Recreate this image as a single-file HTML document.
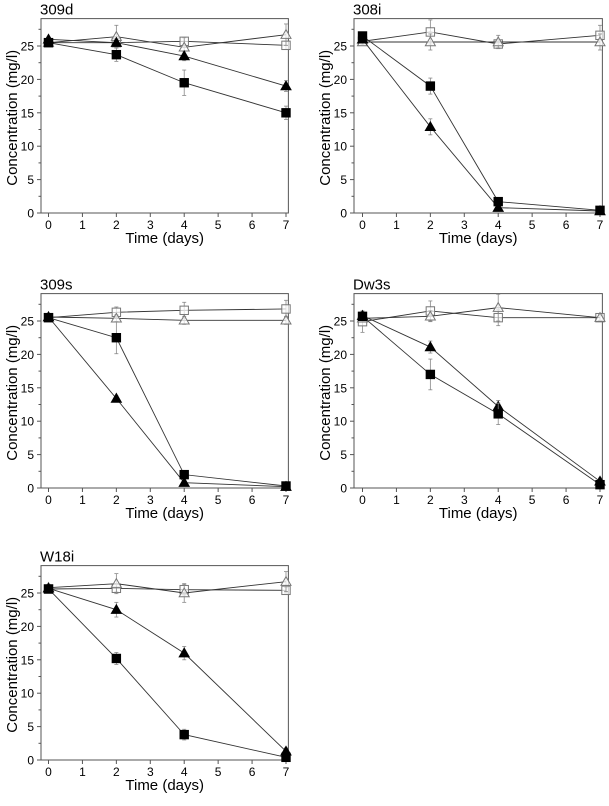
<!DOCTYPE html>
<html><head><meta charset="utf-8"><style>
html,body{margin:0;padding:0;background:#fff;}
svg text{font-family:"Liberation Sans",Arial,sans-serif;fill:#000;}
</style></head><body>
<svg id="fig" width="609" height="801" viewBox="0 0 609 801" xmlns="http://www.w3.org/2000/svg"></svg>
<script>
const days=[0,2,4,7];
const xTicks=[0,1,2,3,4,5,6,7];
const yTicks=[0,5,10,15,20,25];
const titles=["309d","308i","309s","Dw3s","W18i"];
// series per panel: openSq, openTri, fillTri, fillSq
const openSq=[[25.5,25.5,25.7,25.1],[25.7,27.1,25.3,26.6],[25.5,26.3,26.6,26.8],[24.9,26.5,25.5,25.5],[25.6,25.7,25.5,25.4]];
const openTri=[[25.5,26.4,24.8,26.7],[25.6,25.6,25.6,25.6],[25.6,25.4,25.1,25.1],[25.4,25.7,27.0,25.5],[25.8,26.4,25.0,26.7]];
const fillTri=[[26.0,25.5,23.5,19.0],[26.0,12.9,0.8,0.3],[25.6,13.4,0.8,0.2],[25.8,21.1,12.2,1.0],[25.7,22.5,16.0,1.3]];
const fillSq=[[25.5,23.7,19.5,15.0],[26.5,19.0,1.7,0.4],[25.5,22.5,2.0,0.3],[25.7,17.0,11.1,0.5],[25.6,15.2,3.8,0.4]];
const errSq=[[0.4,0.6,0.5,0.6],[0.4,1.8,0.5,1.5],[0.4,0.8,1.2,1.3],[1.6,1.5,1.2,0.4],[0.4,0.5,0.8,0.4]];
const errTri=[[0.4,1.7,1.5,1.6],[0.4,1.2,1.0,1.2],[0.4,0.5,0.6,0.6],[0.5,0.8,2.0,0.4],[0.5,1.5,1.4,1.5]];
const errFTri=[[0.3,0.5,0.7,0.8],[0.4,1.2,0.3,0.2],[0.3,0.4,0.3,0.2],[0.4,0.9,0.9,0.5],[0.4,1.1,1.0,0.5]];
const errFSq=[[0.4,1.0,1.9,1.0],[0.4,1.2,0.3,0.2],[0.4,2.4,0.4,0.2],[0.5,2.3,1.6,0.3],[0.4,0.9,0.8,0.3]];

const NS="http://www.w3.org/2000/svg";
const svg=document.getElementById('fig');
function el(tag,attrs,parent){const e=document.createElementNS(NS,tag);for(const k in attrs)e.setAttribute(k,attrs[k]);(parent||svg).appendChild(e);return e;}
const layout=[{bx:41,x0:48.5,x7:286,y0:213},{bx:354,x0:362.5,x7:600,y0:213},{bx:41,x0:48.5,x7:286,y0:488},{bx:354,x0:362.5,x7:600,y0:488},{bx:41,x0:48.5,x7:286,y0:760}];
const pxPerUnit=6.68, yMax=29.1;

layout.forEach((L,i)=>{
  const g=el('g',{});
  
  
  const sx=d=>L.x0+(L.x7-L.x0)*d/7;
  const sy=v=>L.y0-v*pxPerUnit;
  const right=sx(7.07), top=sy(yMax);
  const t=el('text',{x:L.bx-1,y:top-4,'font-size':15},g);t.textContent=titles[i];
  
  const box=el('rect',{x:L.bx,y:top,width:right-L.bx,height:L.y0-top,fill:'none',stroke:'#555','stroke-width':1},g);
  
  xTicks.forEach(d=>{
    el('line',{x1:sx(d),x2:sx(d),y1:L.y0,y2:L.y0+4,stroke:'#555'},g);
    const tx=el('text',{x:sx(d),y:L.y0+16,'font-size':12,'text-anchor':'middle'},g);tx.textContent=d;
    
  });
  for(let v=0;v<=27.5;v+=2.5){el('line',{x1:L.bx-(v%5===0?4:2.5),x2:L.bx,y1:sy(v),y2:sy(v),stroke:'#555'},g);}
  yTicks.forEach(v=>{
    const ty=el('text',{x:L.bx-7,y:sy(v)+4.5,'font-size':12,'text-anchor':'end'},g);ty.textContent=v;
    
  });
  const xl=el('text',{x:(L.bx+right)/2,y:L.y0+30,'font-size':15,'text-anchor':'middle'},g);xl.textContent='Time  (days)';
  
  const yc=L.bx-24, ym=(top+L.y0)/2+2;
  const yl=el('text',{x:0,y:0,'font-size':15,'text-anchor':'middle',transform:`translate(${yc},${ym}) rotate(-90)`},g);yl.textContent='Concentration  (mg/l)';
  

  const series=[[openSq[i],errSq[i],'sq',false,'#777'],[openTri[i],errTri[i],'tri',false,'#777'],[fillTri[i],errFTri[i],'tri',true,'#000'],[fillSq[i],errFSq[i],'sq',true,'#000']];
  series.forEach(([vals,errs,shape,filled,col],si)=>{
    const sg=el('g',{},g);
    
    
    const pts=days.map((d,k)=>sx(d)+','+sy(vals[k])).join(' ');
    el('polyline',{points:pts,fill:'none',stroke:'#333','stroke-width':0.9},sg);
    days.forEach((d,k)=>{
      const x=sx(d),y=sy(vals[k]),e=errs[k]*pxPerUnit;
      el('line',{x1:x,x2:x,y1:y-e,y2:y+e,stroke:'#888','stroke-width':0.8},sg);
      el('line',{x1:x-2,x2:x+2,y1:y-e,y2:y-e,stroke:'#888','stroke-width':0.8},sg);
      el('line',{x1:x-2,x2:x+2,y1:y+e,y2:y+e,stroke:'#888','stroke-width':0.8},sg);
      let m;
      if(shape==='sq') m=el('rect',{x:x-4.2,y:y-4.2,width:8.4,height:8.4,fill:filled?'#000':'#fff',stroke:filled?'#000':'#777','stroke-width':1},sg);
      else m=el('polygon',{points:`${x},${y-5} ${x-5},${y+3.7} ${x+5},${y+3.7}`,fill:filled?'#000':'#fff',stroke:filled?'#000':'#777','stroke-width':1},sg);
      if(!filled) m.setAttribute('fill-opacity','0.7');
      
      
    });
  });
});
</script>
</body></html>
